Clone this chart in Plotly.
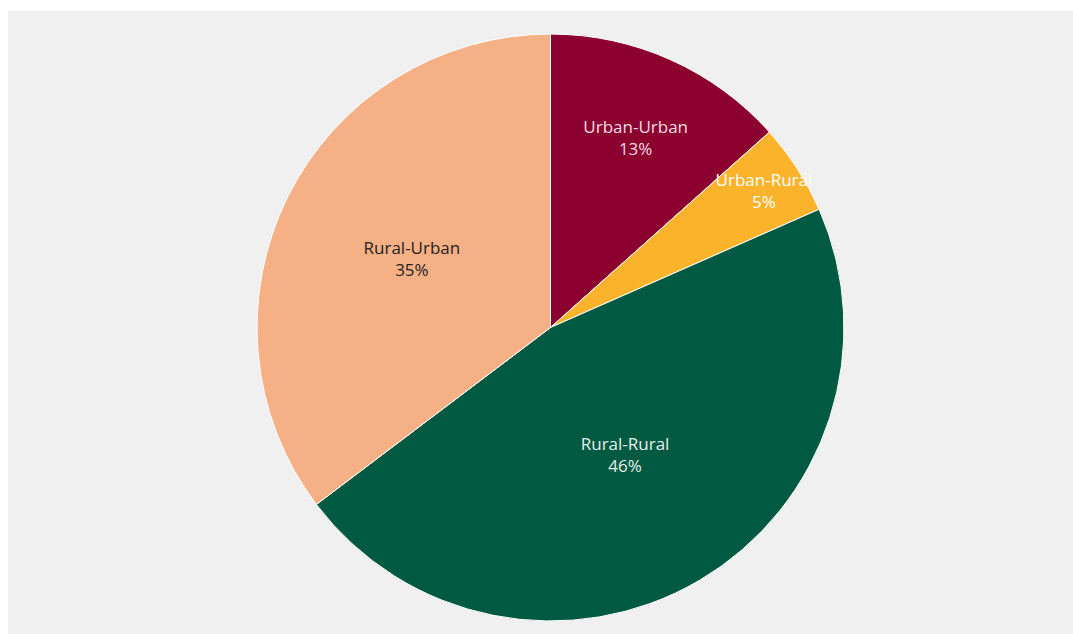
import plotly.graph_objects as go

# Share of migration flows by origin-destination type
categories = ["Urban-Urban", "Urban-Rural", "Rural-Rural", "Rural-Urban"]
shares = [13.4, 5.0, 46.3, 35.3]
slice_colors = ["#8c002f", "#fbb32b", "#005a41", "#f6b085"]
text_colors = ["#f4dde4", "#ffffff", "#e6efec", "#222222"]

label_font = "Open Sans, Lato, sans-serif"

fig = go.Figure(
    go.Pie(
        labels=categories,
        values=shares,
        sort=False,
        direction="clockwise",
        rotation=0,
        marker=dict(colors=slice_colors, line=dict(color="#ffffff", width=1)),
        texttemplate="%{label}<br>%{percent:.0%}",
        textposition="inside",
        insidetextorientation="horizontal",
        insidetextfont=dict(color=text_colors, size=17, family=label_font),
        hoverinfo="label+percent",
        showlegend=False,
        domain=dict(x=[0.2338, 0.785], y=[0.0209, 0.963]),
    )
)

fig.update_layout(
    width=1073,
    height=634,
    margin=dict(l=8, r=0, t=11, b=0),
    paper_bgcolor="#ffffff",
    font=dict(family=label_font, size=17),
    uniformtext=dict(minsize=17, mode="show"),
    shapes=[
        dict(
            type="rect",
            xref="paper",
            yref="paper",
            x0=0,
            x1=1,
            y0=0,
            y1=1,
            fillcolor="#f0f0f0",
            line=dict(width=0),
            layer="below",
        )
    ],
)

fig.write_html("out.html")
